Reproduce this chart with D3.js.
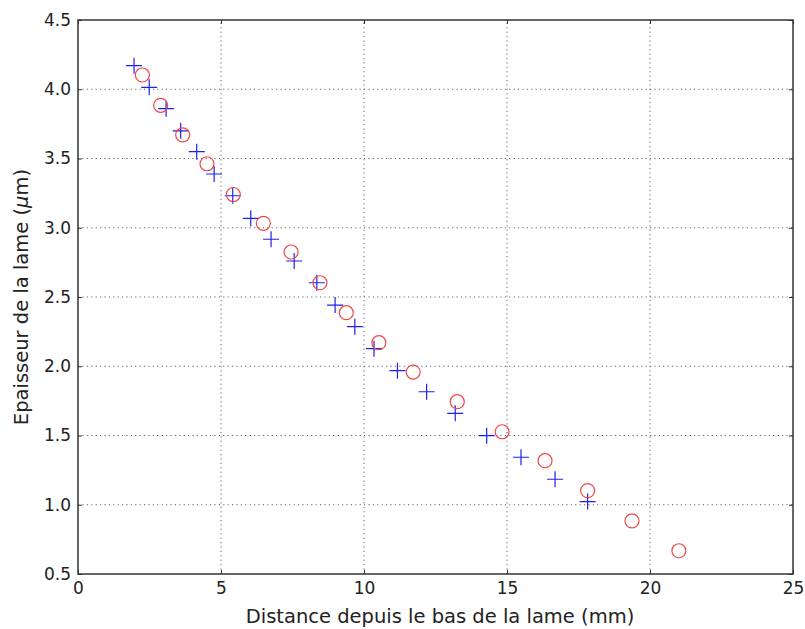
<!DOCTYPE html>
<html>
<head>
<meta charset="utf-8">
<script src="https://cdn.jsdelivr.net/npm/d3@7"></script>
<style>
  body { margin: 0; background: #fff; }
  text { font-family: "DejaVu Sans", sans-serif; fill: #222; }
</style>
</head>
<body>
<div id="chart"></div>
<script>
const plusX = [1.96, 2.49, 3.08, 3.59, 4.15, 4.76, 5.41, 6.04, 6.75, 7.56, 8.35, 8.99, 9.68, 10.35, 11.17, 12.19, 13.19, 14.29, 15.49, 16.68, 17.82];
const plusY = [4.17, 4.014, 3.86, 3.70, 3.549, 3.388, 3.231, 3.068, 2.917, 2.76, 2.603, 2.442, 2.286, 2.127, 1.968, 1.816, 1.66, 1.499, 1.343, 1.184, 1.023];
const circX = [2.25, 2.89, 3.66, 4.51, 5.43, 6.48, 7.45, 8.46, 9.38, 10.52, 11.72, 13.26, 14.83, 16.33, 17.82, 19.37, 21.01];
const circY = [4.103, 3.884, 3.67, 3.462, 3.24, 3.032, 2.825, 2.603, 2.387, 2.17, 1.958, 1.744, 1.527, 1.318, 1.102, 0.883, 0.668];
const xTicks = [0, 5, 10, 15, 20, 25];
const yTicks = [0.5, 1.0, 1.5, 2.0, 2.5, 3.0, 3.5, 4.0, 4.5];

const width = 805, height = 629;
const margin = {left: 78, right: 12, top: 20, bottom: 55};

const svg = d3.select('#chart').append('svg')
    .attr('width', width)
    .attr('height', height);

const x = d3.scaleLinear().domain([0, 25]).range([margin.left, width - margin.right]);
const y = d3.scaleLinear().domain([0.5, 4.5]).range([height - margin.bottom, margin.top]);

// grille pointillée
svg.append('g')
    .selectAll('line')
    .data(xTicks.slice(1, -1))
    .enter()
    .append('line')
    .attr('x1', d => x(d)).attr('x2', d => x(d))
    .attr('y1', y(0.5)).attr('y2', y(4.5))
    .attr('stroke', '#666')
    .attr('stroke-dasharray', '1.2,3.2');

svg.append('g')
    .selectAll('line')
    .data(yTicks.slice(1, -1))
    .enter()
    .append('line')
    .attr('y1', d => y(d)).attr('y2', d => y(d))
    .attr('x1', x(0)).attr('x2', x(25))
    .attr('stroke', '#666')
    .attr('stroke-dasharray', '1.2,3.2');

// axes (ticks vers l'intérieur, sur les quatre côtés)
const tickLen = 4;
svg.append('g')
    .attr('transform', `translate(0,${y(0.5)})`)
    .call(d3.axisBottom(x).tickValues(xTicks).tickFormat(d3.format('d')).tickSize(-tickLen).tickPadding(8))
    .call(g => g.select('.domain').remove())
    .call(g => g.selectAll('text').attr('font-size', 17).attr('fill', '#222'));

svg.append('g')
    .attr('transform', `translate(0,${y(4.5)})`)
    .call(d3.axisTop(x).tickValues(xTicks).tickFormat('').tickSize(-tickLen))
    .call(g => g.select('.domain').remove());

svg.append('g')
    .attr('transform', `translate(${x(0)},0)`)
    .call(d3.axisLeft(y).tickValues(yTicks).tickFormat(d3.format('.1f')).tickSize(-tickLen).tickPadding(7))
    .call(g => g.select('.domain').remove())
    .call(g => g.selectAll('text').attr('font-size', 17).attr('fill', '#222'));

svg.append('g')
    .attr('transform', `translate(${x(25)},0)`)
    .call(d3.axisRight(y).tickValues(yTicks).tickFormat('').tickSize(-tickLen))
    .call(g => g.select('.domain').remove());

svg.selectAll('.tick line').attr('stroke', '#333');

svg.append('rect')
    .attr('x', x(0)).attr('y', y(4.5))
    .attr('width', x(25) - x(0))
    .attr('height', y(0.5) - y(4.5))
    .attr('fill', 'none')
    .attr('stroke', '#333')
    .attr('stroke-width', 1.5);

// croix bleues
const plus = d3.range(plusX.length).map(i => ({x: plusX[i], y: plusY[i]}));
const s = 8;
svg.append('g')
    .selectAll('path')
    .data(plus)
    .enter()
    .append('path')
    .attr('d', d => `M${x(d.x) - s},${y(d.y)}H${x(d.x) + s}M${x(d.x)},${y(d.y) - s}V${y(d.y) + s}`)
    .attr('stroke', '#2020ee')
    .attr('stroke-width', 1.2)
    .attr('fill', 'none');

// cercles rouges
const circ = d3.range(circX.length).map(i => ({x: circX[i], y: circY[i]}));
svg.append('g')
    .selectAll('circle')
    .data(circ)
    .enter()
    .append('circle')
    .attr('cx', d => x(d.x))
    .attr('cy', d => y(d.y))
    .attr('r', 7)
    .attr('fill', 'none')
    .attr('stroke', '#f04848')
    .attr('stroke-width', 1.2);

// titres des axes
svg.append('text')
    .attr('x', 440)
    .attr('y', 623)
    .attr('text-anchor', 'middle')
    .attr('font-size', 19.5)
    .text('Distance depuis le bas de la lame (mm)');

const yl = svg.append('text')
    .attr('transform', `translate(28,297) rotate(-90)`)
    .attr('text-anchor', 'middle')
    .attr('font-size', 19.5);
yl.append('tspan').text('Epaisseur de la lame (');
yl.append('tspan').attr('font-style', 'italic').text('μ');
yl.append('tspan').text('m)');
</script>
</body>
</html>
